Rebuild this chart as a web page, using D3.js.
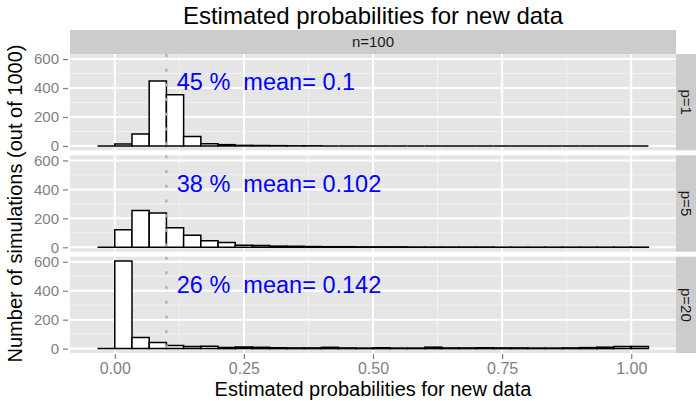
<!DOCTYPE html>
<html>
<head>
<meta charset="utf-8">
<script src="https://cdn.jsdelivr.net/npm/d3@7"></script>
<style>
  body { margin: 0; background: #fff; }
  text { font-family: "Liberation Sans", Arial, sans-serif; }
</style>
</head>
<body>
<script>
// histogram bins: width 1/30, first bin starts at -1/30
const binWidth = 1 / 30;
const binStart = -1 / 30;

// counts per bin, one array per panel (out of 1000 simulations)
const countsP1 = [0, 14, 82, 449, 354, 65, 16, 9, 4, 3, 2, 1, 1, 0, 0, 0,
  0, 0, 0, 0, 0, 0, 0, 0, 0, 0, 0, 0, 0, 0, 0, 0];
const countsP5 = [0, 121, 254, 237, 135, 84, 45, 33, 14, 12, 8, 7, 5, 4, 4, 3,
  3, 3, 2, 2, 2, 2, 2, 1, 1, 1, 1, 1, 1, 1, 1, 1];
const countsP20 = [0, 605, 77, 42, 21, 14, 16, 8, 12, 9, 6, 5, 5, 9, 5, 4,
  6, 4, 4, 10, 5, 5, 6, 5, 5, 4, 4, 5, 7, 10, 14, 15];

const panelLabels = ['p=1', 'p=5', 'p=20'];
const notes = ['45 %  mean= 0.1', '38 %  mean= 0.102', '26 %  mean= 0.142'];
const refLine = 0.1;
const noteX = 0.12;
const noteY = 440;
const xTicks = [0, 0.25, 0.5, 0.75, 1];
const xMinor = [0.125, 0.375, 0.625, 0.875];
const yTicks = [0, 200, 400, 600];
const yMinor = [100, 300, 500];
const colLabel = 'n=100';

const panels = [countsP1, countsP5, countsP20];

const width = 696, height = 401;
const left = 70, right = 676, stripTop = 30, stripH = 24;
const panelTop = stripTop + stripH, panelBottom = 353;
const gap = 5;
const panelH = (panelBottom - panelTop - gap * (panels.length - 1)) / panels.length;
const font = '"Liberation Sans", Arial, sans-serif';

const svg = d3.select('body').append('svg')
  .attr('width', width)
  .attr('height', height);

// x range covers all bins, expanded by 5%
const xMin = binStart, xMax = binStart + binWidth * countsP1.length;
const xPad = (xMax - xMin) * 0.05;
const x = d3.scaleLinear()
  .domain([xMin - xPad, xMax + xPad])
  .range([left, right]);

const yMax = d3.max(panels, c => d3.max(c));
const y = d3.scaleLinear()
  .domain([-yMax * 0.05, yMax * 1.05])
  .range([panelH, 0]);

// title
svg.append('text')
  .attr('x', (left + right) / 2)
  .attr('y', 24)
  .attr('text-anchor', 'middle')
  .style('font-size', '24px')
  .text('Estimated probabilities for new data');

// top strip
svg.append('rect')
  .attr('x', left).attr('y', stripTop)
  .attr('width', right - left).attr('height', stripH)
  .attr('fill', '#cccccc');
svg.append('text')
  .attr('x', (left + right) / 2)
  .attr('y', stripTop + stripH / 2)
  .attr('dy', '0.35em')
  .attr('text-anchor', 'middle')
  .attr('fill', '#1a1a1a')
  .style('font-size', '15px')
  .text(colLabel);

panels.forEach((counts, i) => {
  const top = panelTop + i * (panelH + gap);
  const g = svg.append('g').attr('transform', `translate(0, ${top})`);

  g.append('rect')
    .attr('x', left).attr('y', 0)
    .attr('width', right - left).attr('height', panelH)
    .attr('fill', '#e5e5e5');

  // minor grid
  g.selectAll('.xminor').data(xMinor).join('line')
    .attr('x1', d => x(d)).attr('x2', d => x(d))
    .attr('y1', 0).attr('y2', panelH)
    .attr('stroke', '#f2f2f2').attr('stroke-width', 1);
  g.selectAll('.yminor').data(yMinor).join('line')
    .attr('x1', left).attr('x2', right)
    .attr('y1', d => y(d)).attr('y2', d => y(d))
    .attr('stroke', '#f2f2f2').attr('stroke-width', 1);

  // major grid
  g.selectAll('.xmajor').data(xTicks).join('line')
    .attr('x1', d => x(d)).attr('x2', d => x(d))
    .attr('y1', 0).attr('y2', panelH)
    .attr('stroke', '#ffffff').attr('stroke-width', 2);
  g.selectAll('.ymajor').data(yTicks).join('line')
    .attr('x1', left).attr('x2', right)
    .attr('y1', d => y(d)).attr('y2', d => y(d))
    .attr('stroke', '#ffffff').attr('stroke-width', 2);

  // bars (paths so that empty bins still draw as a baseline)
  g.selectAll('.bar').data(counts).join('path')
    .attr('d', (d, k) => {
      const x0 = x(binStart + k * binWidth), x1 = x(binStart + (k + 1) * binWidth);
      return `M${x0},${y(0)}V${y(d)}H${x1}V${y(0)}Z`;
    })
    .attr('fill', '#ffffff')
    .attr('stroke', '#000000')
    .attr('stroke-width', 1.5);

  // reference line
  g.append('line')
    .attr('x1', x(refLine)).attr('x2', x(refLine))
    .attr('y1', 0).attr('y2', panelH)
    .attr('stroke', '#b5b5b5')
    .attr('stroke-width', 2.5)
    .attr('stroke-dasharray', '3,11.7');

  g.append('text')
    .attr('x', x(noteX))
    .attr('y', y(noteY))
    .attr('dy', '0.35em')
    .attr('fill', '#0000ff')
    .style('font-size', '23.5px')
    .style('white-space', 'pre')
    .text(notes[i]);

  // y axis
  const yAxis = d3.axisLeft(y).tickValues(yTicks).tickSize(5).tickPadding(4);
  const ya = g.append('g')
    .attr('transform', `translate(${left - 2}, 0)`)
    .call(yAxis);
  ya.select('.domain').remove();
  ya.selectAll('line').attr('stroke', '#7f7f7f').attr('stroke-width', 1.2);
  ya.selectAll('text').attr('fill', '#7f7f7f')
    .style('font-size', '15px').style('font-family', font);

  // right strip
  g.append('rect')
    .attr('x', right).attr('y', 0)
    .attr('width', width - right).attr('height', panelH)
    .attr('fill', '#cccccc');
  g.append('text')
    .attr('transform', `translate(${right + 10}, ${panelH / 2}) rotate(90)`)
    .attr('dy', '0.35em')
    .attr('text-anchor', 'middle')
    .attr('fill', '#1a1a1a')
    .style('font-size', '15px')
    .text(panelLabels[i]);
});

// x axis
const xAxis = d3.axisBottom(x).tickValues(xTicks).tickSize(5).tickPadding(4)
  .tickFormat(d3.format('.2f'));
const xa = svg.append('g')
  .attr('transform', `translate(0, ${panelBottom + 1})`)
  .call(xAxis);
xa.select('.domain').remove();
xa.selectAll('line').attr('stroke', '#7f7f7f').attr('stroke-width', 1.2);
xa.selectAll('text').attr('fill', '#7f7f7f')
  .style('font-size', '16px').style('font-family', font);

// axis titles
svg.append('text')
  .attr('x', (left + right) / 2)
  .attr('y', 396)
  .attr('text-anchor', 'middle')
  .style('font-size', '20px')
  .text('Estimated probabilities for new data');

svg.append('text')
  .attr('transform', `translate(22, ${(panelTop + panelBottom) / 2}) rotate(-90)`)
  .attr('text-anchor', 'middle')
  .style('font-size', '20px')
  .text('Number of simulations (out of 1000)');
</script>
</body>
</html>
